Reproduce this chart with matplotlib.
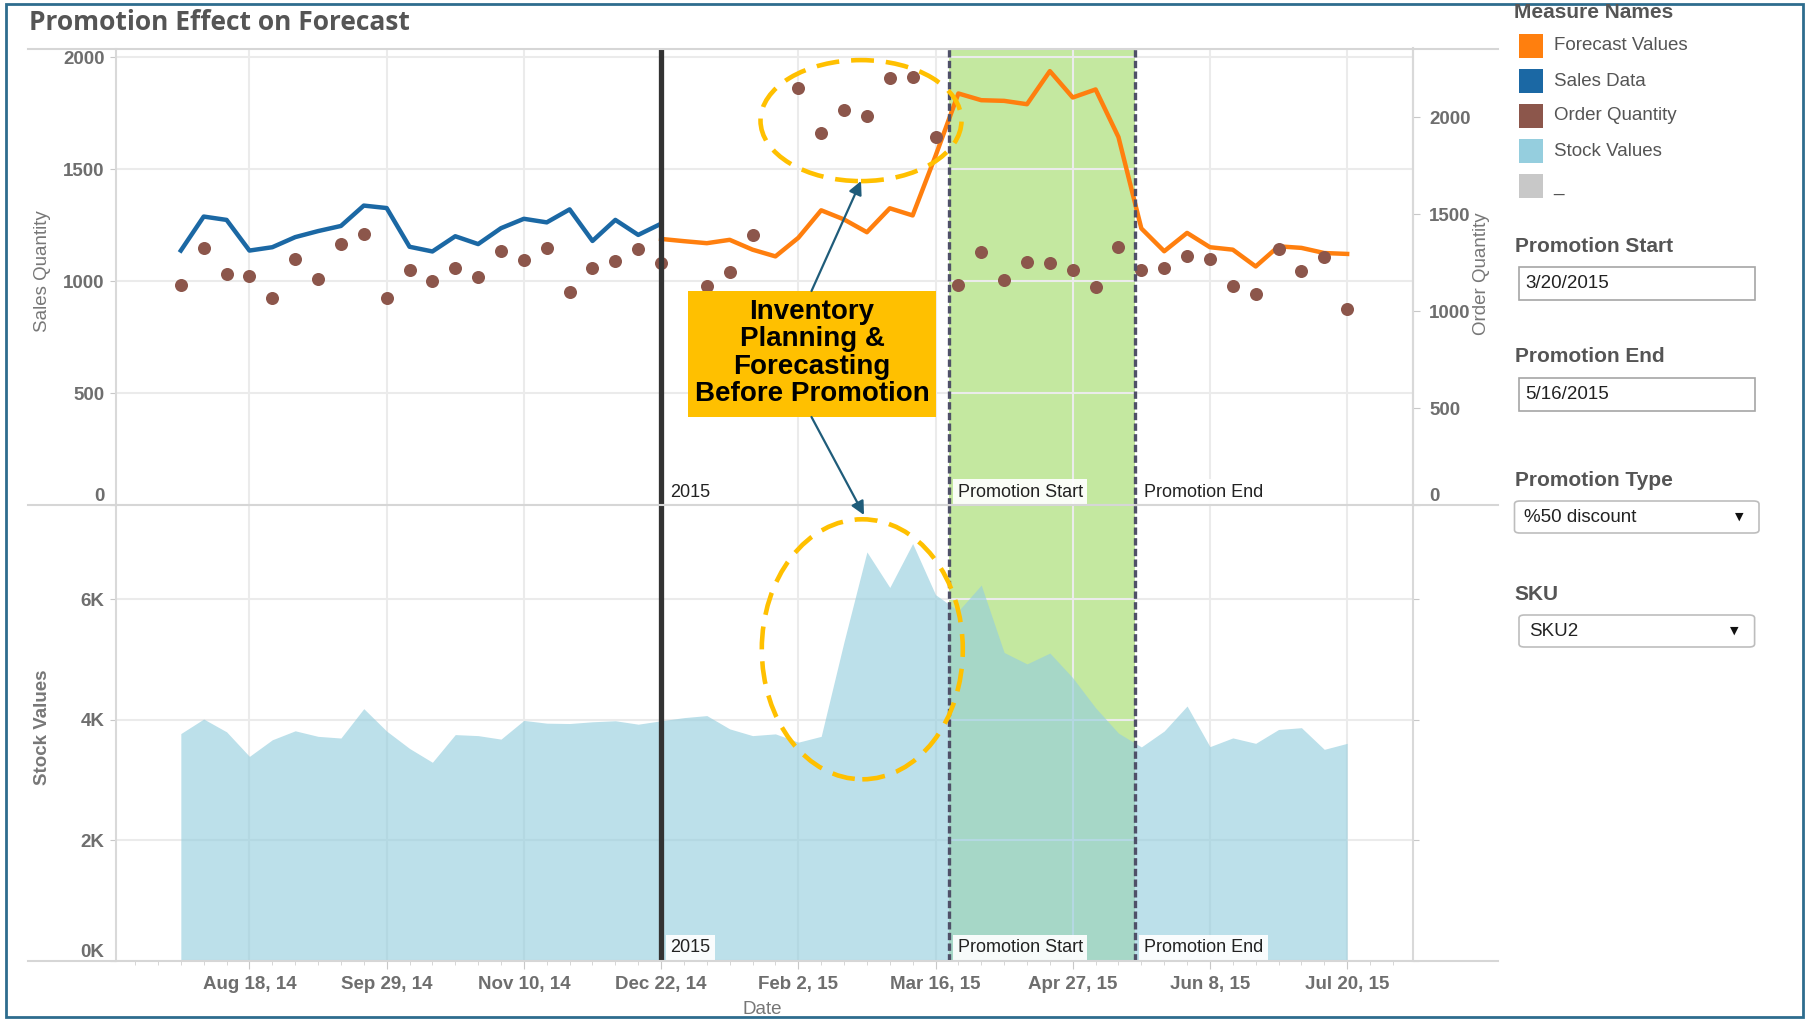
import numpy as np
import pandas as pd
import matplotlib
matplotlib.use('Agg')
import matplotlib.pyplot as plt
import matplotlib.dates as mdates
from matplotlib.patches import Ellipse, Rectangle, FancyBboxPatch, FancyArrowPatch
from matplotlib.lines import Line2D

W, H = 1810, 1023

# weekly series for SKU2, one value per Monday
week_start = '2014-07-28'
week_end = '2015-07-20'
year_mark = '2014-12-22'
promo_start = '2015-03-20'
promo_end = '2015-05-16'

sales_data = [1137, 1289, 1274, 1137, 1152, 1197, 1224, 1247, 1338, 1327, 1154,
              1133, 1201, 1166, 1237, 1279, 1263, 1321, 1180, 1274, 1207, 1257]

forecast_values = [1189, 1179, 1170, 1185, 1141, 1111, 1194, 1317, 1276, 1219, 1326,
                   1294, 1560, 1839, 1809, 1806, 1791, 1939, 1821, 1857, 1644, 1236,
                   1134, 1216, 1152, 1141, 1066, 1156, 1149, 1126, 1122]

order_quantity = [1135, 1325, 1190, 1180, 1070, 1270, 1165, 1345, 1400, 1070, 1210,
                  1155, 1225, 1175, 1310, 1265, 1325, 1100, 1225, 1260, 1320, 1250,
                  np.nan, 1130, 1200, 1395, 1000, 2150, 1920, 2040, 2005, 2205, 2210,
                  1900, 1135, 1305, 1160, 1255, 1250, 1210, 1125, 1330, 1210, 1225,
                  1285, 1270, 1130, 1090, 1320, 1205, 1280, 1010]

stock_values = [3772, 4014, 3801, 3393, 3669, 3818, 3726, 3698, 4186, 3813, 3525,
                3295, 3755, 3738, 3680, 3991, 3945, 3939, 3968, 3985, 3928, 3985,
                4037, 4071, 3850, 3738, 3767, 3629, 3726, 5300, 6790, 6200, 6930,
                6080, 5810, 6240, 5120, 4930, 5110, 4700, 4200, 3780, 3550, 3815,
                4230, 3555, 3700, 3610, 3840, 3870, 3510, 3610]

measure_names = ['Forecast Values', 'Sales Data', 'Order Quantity', 'Stock Values', '_']
measure_colors = ['#FF7F0E', '#1B68A4', '#8C564B', '#95CEDE', '#C8C8C8']

weeks = pd.date_range(week_start, week_end, freq='7D')
n_hist = len(sales_data)
major_dates = weeks[3::6]

plt.rcParams['font.family'] = ['Liberation Sans', 'DejaVu Sans']

C_GRID = '#EBEBEB'
C_AXIS = '#D9D9D9'
C_TICK = '#6E6E6E'
C_GREEN = '#C4E8A0'


def fx(px):
    return px / W


def fy(py):
    return 1 - py / H


fig = plt.figure(figsize=(W / 100, H / 100), dpi=100)

left, right = 115.5, 1412.5
ax1 = fig.add_axes([fx(left), fy(505), (right - left) / W, (505 - 48.5) / H])
ax2 = fig.add_axes([fx(left), fy(960.6), (right - left) / W, (960.6 - 505) / H])
ax1r = ax1.twinx()

xlim = (pd.Timestamp('2014-07-08'), pd.Timestamp('2015-08-09'))
for ax in (ax1, ax2):
    ax.set_xlim(*xlim)
    ax.set_axisbelow(True)
    ax.axvspan(pd.Timestamp(promo_start), pd.Timestamp(promo_end),
               color=C_GREEN, lw=0, zorder=0.2)
    ax.grid(True, which='major', color=C_GRID, lw=1.5)
    for s in ('top', 'bottom'):
        ax.spines[s].set_visible(False)
    for s in ('left', 'right'):
        ax.spines[s].set_color(C_AXIS)
        ax.spines[s].set_linewidth(1.5)
for s in ('top', 'bottom'):
    ax1r.spines[s].set_visible(False)
ax1r.spines['right'].set_color(C_AXIS)
ax1r.spines['right'].set_linewidth(1.5)
ax1r.spines['left'].set_visible(False)

# upper pane: sales history, forecast and orders
ax1.plot(weeks[:n_hist], sales_data, color=measure_colors[1], lw=3.2, zorder=2)
ax1.plot(weeks[n_hist - 1:], forecast_values, color=measure_colors[0], lw=3.2, zorder=2)
ax1r.scatter(weeks, order_quantity, s=88, color=measure_colors[2], lw=0, zorder=3)

ax1.set_ylim(0, 2040)
ax1.set_yticks([0, 500, 1000, 1500, 2000], labels=['0', '500', '1000', '1500', '2000'],
               fontweight='bold')
ax1.set_xticks(major_dates)
ax1.tick_params(axis='x', bottom=False, labelbottom=False)
ax1.tick_params(axis='y', length=4, color='#C8C8C8', labelsize=13.5, labelcolor=C_TICK, pad=4)

ax1r.set_ylim(0, 2355)
ax1r.set_yticks([0, 500, 1000, 1500, 2000], labels=['0', '500', '1000', '1500', '2000'],
                fontweight='bold')
ax1r.tick_params(axis='y', length=5, color='#C8C8C8', labelsize=13.5, labelcolor=C_TICK, pad=7)

# lower pane: stock on hand
ax2.fill_between(weeks, stock_values, 0, color=measure_colors[3], alpha=0.63, lw=0, zorder=1)
ax2.set_ylim(0, 7570)
ax2.set_yticks([0, 2000, 4000, 6000], labels=['0K', '2K', '4K', '6K'], fontweight='bold')
ax2.tick_params(axis='y', length=4, color='#C8C8C8', labelsize=13.5, labelcolor=C_TICK,
                pad=4, right=True, labelright=False)
ax2.set_xticks(major_dates, labels=[f'{d:%b} {d.day}, {d:%y}' for d in major_dates],
               fontweight='bold')
ax2.xaxis.set_minor_locator(mdates.WeekdayLocator(byweekday=mdates.MO))
ax2.tick_params(axis='x', which='major', length=6, color='#C8C8C8', labelsize=13.5,
                labelcolor=C_TICK, pad=5)
ax2.tick_params(axis='x', which='minor', length=3, color='#D0D0D0')

for ax, side in ((ax1, 'label1'), (ax1r, 'label2'), (ax2, 'label1')):
    getattr(ax.yaxis.get_major_ticks()[0], side).set_verticalalignment('bottom')

# reference lines with their labels
for ax in (ax1r, ax2):
    ax.axvline(pd.Timestamp(year_mark), color='#333333', lw=3.8, zorder=5)
    for d in (promo_start, promo_end):
        ax.axvline(pd.Timestamp(d), color='#4F5068', lw=2.4, ls=(0, (2.2, 1.0)), zorder=5)
    for d, txt in ((year_mark, '2015'), (promo_start, 'Promotion Start'),
                   (promo_end, 'Promotion End')):
        ax.annotate(txt, xy=(pd.Timestamp(d), 0), xycoords=('data', 'axes fraction'),
                    xytext=(6.5, 3), textcoords='offset points', ha='left', va='bottom',
                    fontsize=13, color='#222222', zorder=6,
                    bbox=dict(boxstyle='square,pad=0.25', fc='white', ec='none', alpha=0.92))

# frame, header and pane separators
fig.add_artist(Rectangle((fx(6), fy(1017)), (1803 - 6) / W, (1017 - 4) / H,
                         transform=fig.transFigure, fill=False, ec='#2E6D8E', lw=2))
for y in (48.5, 505, 960.6):
    fig.add_artist(Line2D([fx(28), fx(1498)], [fy(y), fy(y)], transform=fig.transFigure,
                          color='#D6D6D6', lw=1.5))
fig.text(fx(29), fy(23), 'Promotion Effect on Forecast', family=['Open Sans', 'DejaVu Sans'],
         fontsize=19, fontweight='bold', color='#555555', va='center', ha='left')

fig.text(fx(42.7), fy(271), 'Sales Quantity', rotation=90, ha='center', va='center',
         fontsize=13.5, color='#777777')
fig.text(fx(1481), fy(273.6), 'Order Quantity', rotation=90, ha='center', va='center',
         fontsize=13.5, color='#777777')
fig.text(fx(42.7), fy(727), 'Stock Values', rotation=90, ha='center', va='center',
         fontsize=13.5, color='#777777', fontweight='bold')
fig.text(fx(762), fy(1009), 'Date', ha='center', va='center', fontsize=13.5, color='#777777')

# callout box, arrows and dashed rings
fig.add_artist(Rectangle((fx(688), fy(417)), (936 - 688) / W, (417 - 291) / H,
                         transform=fig.transFigure, fc='#FFC000', ec='none', zorder=10))
fig.text(fx(812), fy(353), 'Inventory\nPlanning &\nForecasting\nBefore Promotion',
         ha='center', va='center', fontsize=20, fontweight='bold', color='black',
         linespacing=1.08, zorder=11)
for a, b in (((811.5, 291), (861, 181)), ((811.5, 417), (864, 515))):
    fig.add_artist(FancyArrowPatch((fx(a[0]), fy(a[1])), (fx(b[0]), fy(b[1])),
                                   transform=fig.transFigure, arrowstyle='-|>',
                                   mutation_scale=20, lw=1.6, color='#1F5C7A',
                                   shrinkA=0, shrinkB=0, zorder=11))
for cx, cy, w, h in ((861, 120.6, 201, 121), (862.3, 649.3, 201, 260)):
    fig.add_artist(Ellipse((fx(cx), fy(cy)), w / W, h / H, transform=fig.transFigure,
                           fill=False, ec='#FFC000', lw=3.3, ls=(0, (5, 2.6)), zorder=11))

# legend and filter cards on the right
fig.text(fx(1514), fy(13), 'Measure Names', fontsize=15, fontweight='bold',
         color='#555555', va='center')
for i, (name, col) in enumerate(zip(measure_names, measure_colors)):
    cy = 46 + i * 35
    fig.add_artist(Rectangle((fx(1519), fy(cy + 12)), 24 / W, 24 / H,
                             transform=fig.transFigure, fc=col, ec='none'))
    fig.text(fx(1553.7), fy(cy), name, fontsize=13.5, color='#555555', va='center')

for head, hy, val, by in (('Promotion Start', 246, '3/20/2015', 266.6),
                          ('Promotion End', 356.7, '5/16/2015', 377.5)):
    fig.text(fx(1514.5), fy(hy), head, fontsize=15, fontweight='bold', color='#555555',
             va='center')
    fig.add_artist(Rectangle((fx(1519), fy(by + 33.5)), (1754.6 - 1519) / W, 33.5 / H,
                             transform=fig.transFigure, fc='white', ec='#A6A6A6', lw=1.2))
    fig.text(fx(1525), fy(by + 17), val, fontsize=13.5, color='#222222', va='center')

for head, hy, val, x0, x1, by in (('Promotion Type', 480.2, '%50 discount', 1514.5, 1759, 501),
                                  ('SKU', 594.5, 'SKU2', 1519, 1754.6, 615)):
    fig.text(fx(1514.5), fy(hy), head, fontsize=15, fontweight='bold', color='#555555',
             va='center')
    fig.add_artist(FancyBboxPatch((fx(x0), fy(by + 32)), (x1 - x0) / W, 32 / H,
                                  boxstyle='round,pad=0,rounding_size=0.003',
                                  transform=fig.transFigure, fc='white', ec='#BDBDBD', lw=1.2))
    fig.text(fx(x0 + 10), fy(by + 16), val, fontsize=13.5, color='#222222', va='center')
    fig.text(fx(x1 - 20), fy(by + 16), '\u25bc', family='DejaVu Sans', fontsize=8,
             color='#111111', ha='center', va='center')

fig.savefig('out.png', dpi=100)
